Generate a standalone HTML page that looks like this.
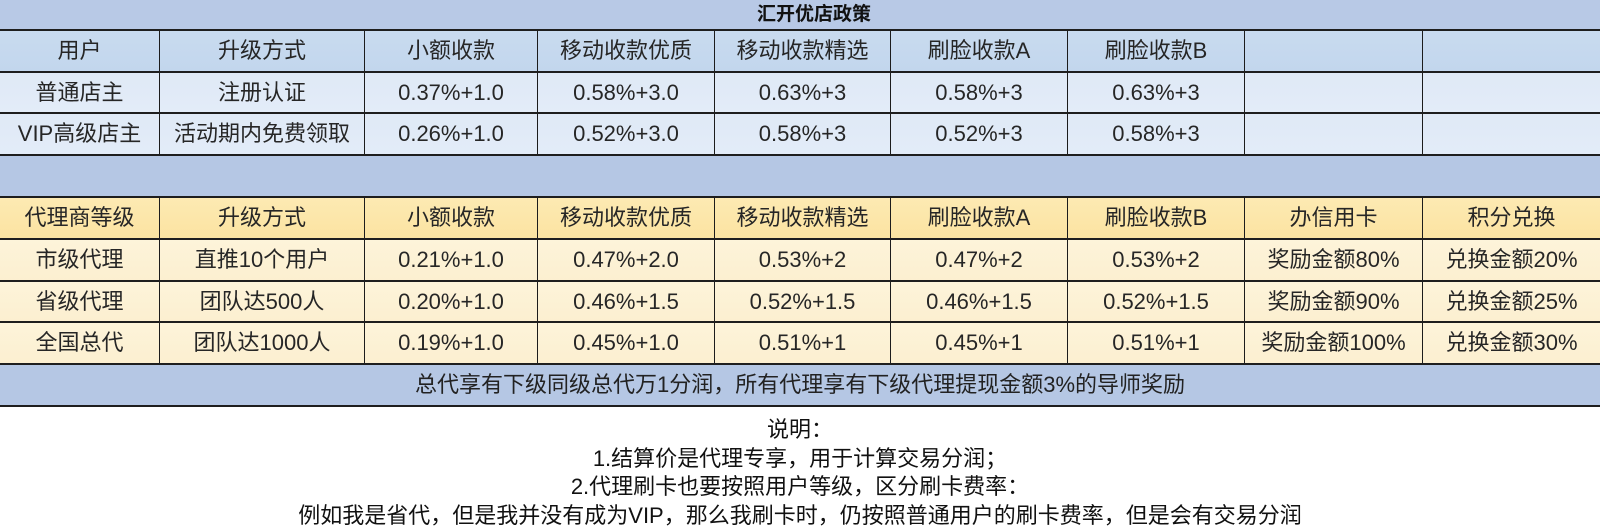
<!DOCTYPE html>
<html><head><meta charset="utf-8">
<style>
html,body{margin:0;padding:0;background:#fff;}
body{width:1600px;height:532px;position:relative;overflow:hidden;font-family:"Liberation Sans","Noto Sans CJK SC",sans-serif;color:#262626;}
.band{position:absolute;left:0;width:1600px;background:#b5c7e4;}
.row{position:absolute;left:0;width:1600px;display:flex;}
.row>div{box-sizing:border-box;border-left:1.5px solid #1c1c1c;text-align:center;font-size:22px;white-space:nowrap;overflow:hidden;}
.row>div:nth-child(1){width:159px;border-left:none;}
.row>div:nth-child(2){width:205px;}
.row>div:nth-child(3){width:173px;}
.row>div:nth-child(4){width:177px;}
.row>div:nth-child(5){width:176px;}
.row>div:nth-child(6){width:177px;}
.row>div:nth-child(7){width:177px;}
.row>div:nth-child(8){width:178px;}
.row>div:nth-child(9){width:178px;}
.b-h>div{background:linear-gradient(#c9dbef,#c2d6ed);}
.b-d>div{background:linear-gradient(#dfe9f6,#e3ecf8);}
.y-h>div{background:linear-gradient(#fdeab3,#fbe3a1);}
.y-d>div{background:linear-gradient(#fdf4da,#fcefd0);}
.hl{position:absolute;left:0;width:1600px;height:2px;background:#1e1e1e;}
.title{position:absolute;left:14px;top:0;width:1600px;height:30px;line-height:30px;text-align:center;font-size:19px;font-weight:bold;color:#111;}
.foot{position:absolute;left:0;top:364px;width:1600px;height:42px;line-height:42px;text-align:center;font-size:22px;color:#222;}
.notes{position:absolute;left:0;top:416px;width:1600px;text-align:center;font-size:22px;line-height:28.5px;color:#111;}
.notes div{white-space:nowrap;}
</style></head><body>

<div class="band" style="top:0;height:30px;background:#b8c9e6;"></div>
<div class="title">汇开优店政策</div>

<div class="row b-h" style="top:30px;height:42px;line-height:42px;">
<div>用户</div><div>升级方式</div><div>小额收款</div><div>移动收款优质</div><div>移动收款精选</div><div>刷脸收款A</div><div>刷脸收款B</div><div></div><div></div>
</div>
<div class="row b-d" style="top:72px;height:41px;line-height:41px;">
<div>普通店主</div><div>注册认证</div><div>0.37%+1.0</div><div>0.58%+3.0</div><div>0.63%+3</div><div>0.58%+3</div><div>0.63%+3</div><div></div><div></div>
</div>
<div class="row b-d" style="top:113px;height:42px;line-height:42px;">
<div>VIP高级店主</div><div>活动期内免费领取</div><div>0.26%+1.0</div><div>0.52%+3.0</div><div>0.58%+3</div><div>0.52%+3</div><div>0.58%+3</div><div></div><div></div>
</div>

<div class="band" style="top:155px;height:42px;"></div>

<div class="row y-h" style="top:197px;height:42px;line-height:42px;">
<div>代理商等级</div><div>升级方式</div><div>小额收款</div><div>移动收款优质</div><div>移动收款精选</div><div>刷脸收款A</div><div>刷脸收款B</div><div>办信用卡</div><div>积分兑换</div>
</div>
<div class="row y-d" style="top:239px;height:42px;line-height:42px;">
<div>市级代理</div><div>直推10个用户</div><div>0.21%+1.0</div><div>0.47%+2.0</div><div>0.53%+2</div><div>0.47%+2</div><div>0.53%+2</div><div>奖励金额80%</div><div>兑换金额20%</div>
</div>
<div class="row y-d" style="top:281px;height:41px;line-height:41px;">
<div>省级代理</div><div>团队达500人</div><div>0.20%+1.0</div><div>0.46%+1.5</div><div>0.52%+1.5</div><div>0.46%+1.5</div><div>0.52%+1.5</div><div>奖励金额90%</div><div>兑换金额25%</div>
</div>
<div class="row y-d" style="top:322px;height:42px;line-height:42px;">
<div>全国总代</div><div>团队达1000人</div><div>0.19%+1.0</div><div>0.45%+1.0</div><div>0.51%+1</div><div>0.45%+1</div><div>0.51%+1</div><div>奖励金额100%</div><div>兑换金额30%</div>
</div>

<div class="band" style="top:364px;height:42px;"></div>
<div class="foot">总代享有下级同级总代万1分润，所有代理享有下级代理提现金额3%的导师奖励</div>

<div class="hl" style="top:29px;"></div>
<div class="hl" style="top:71px;"></div>
<div class="hl" style="top:112px;"></div>
<div class="hl" style="top:154px;"></div>
<div class="hl" style="top:196px;"></div>
<div class="hl" style="top:238px;"></div>
<div class="hl" style="top:280px;"></div>
<div class="hl" style="top:321px;"></div>
<div class="hl" style="top:363px;"></div>
<div class="hl" style="top:405px;"></div>

<div class="notes">
<div>说明：</div>
<div>1.结算价是代理专享，用于计算交易分润；</div>
<div>2.代理刷卡也要按照用户等级，区分刷卡费率：</div>
<div>例如我是省代，但是我并没有成为VIP，那么我刷卡时，仍按照普通用户的刷卡费率，但是会有交易分润</div>
</div>

</body></html>
